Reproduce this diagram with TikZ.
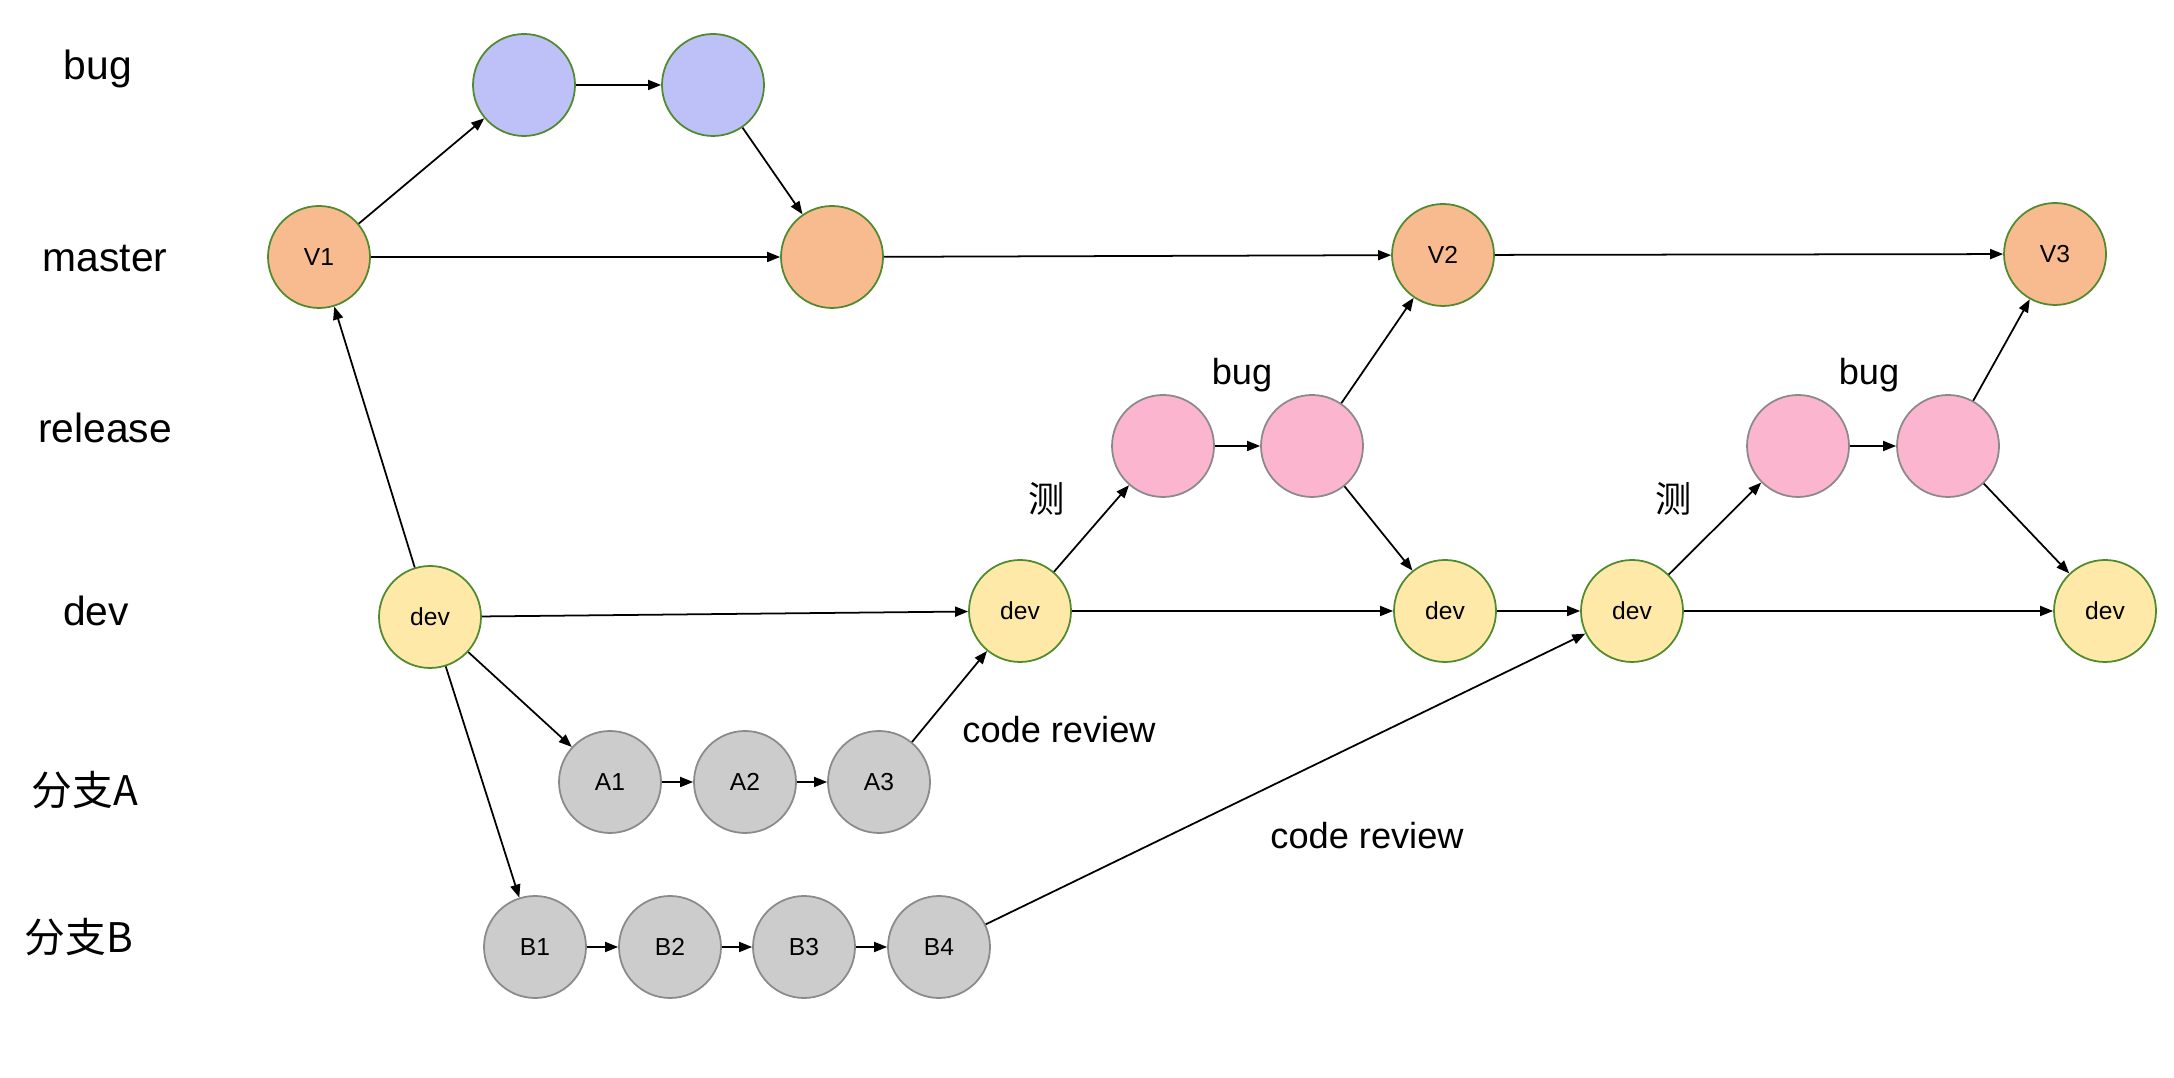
\documentclass[tikz,border=0pt]{standalone}
\usepackage{fontspec}
\setmainfont{Liberation Sans}
\newfontfamily\cjk{Noto Sans CJK SC}
\usepackage{xcolor}
\usetikzlibrary{arrows.meta, positioning}

\definecolor{mastercol}{HTML}{F8BB8F}
\definecolor{bugcol}{HTML}{BDC1F7}
\definecolor{relcol}{HTML}{FBB5CE}
\definecolor{devcol}{HTML}{FFE9A9}
\definecolor{featcol}{HTML}{CCCCCC}
\definecolor{greenline}{HTML}{4F8B2D}
\definecolor{grayline}{HTML}{8A8A8A}

\begin{document}
\begin{tikzpicture}[
	>={Triangle[length=1.3mm, width=1mm]},
	commit/.style={circle, draw, line width=0.5pt, minimum size=1.02cm, inner sep=0pt, font=\fontsize{7}{8}\selectfont},
	mastercommit/.style={commit, fill=mastercol, draw=greenline},
	bugcommit/.style={commit, fill=bugcol, draw=greenline},
	devcommit/.style={commit, fill=devcol, draw=greenline},
	relcommit/.style={commit, fill=relcol, draw=grayline},
	featcommit/.style={commit, fill=featcol, draw=grayline},
	lane/.style={font=\fontsize{11.6}{14}\selectfont, yshift=-0.04cm},
	note/.style={font=\fontsize{10.3}{12}\selectfont, yshift=-0.03cm},
	link/.style={->, line width=0.5pt}
	]
	
	\useasboundingbox (0,0) rectangle (21.74,-10.78);
	
	% Lane names
	\node[lane] (Lbug) at (0.98,-0.65) {bug};
	\node[lane] (Lmaster) at (1.05,-2.55) {master};
	\node[lane] (Lrelease) at (1.05,-4.24) {release};
	\node[lane] (Ldev) at (0.96,-6.07) {dev};
	\node[lane] (La) at (0.85,-7.86) {\cjk 分支A};
	\node[lane] (Lb) at (0.79,-9.33) {\cjk 分支B};
	
	% master
	\node[mastercommit] (V1) at (3.19,-2.57) {V1};
	\node[mastercommit] (M2) at (8.32,-2.57) {};
	\node[mastercommit] (V2) at (14.43,-2.55) {V2};
	\node[mastercommit] (V3) at (20.55,-2.54) {V3};
	
	% bug
	\node[bugcommit] (bug1) at (5.24,-0.85) {};
	\node[bugcommit] (bug2) at (7.13,-0.85) {};
	
	% release
	\node[relcommit] (R1) at (11.63,-4.46) {};
	\node[relcommit] (R2) at (13.12,-4.46) {};
	\node[relcommit] (R3) at (17.98,-4.46) {};
	\node[relcommit] (R4) at (19.48,-4.46) {};
	
	% dev
	\node[devcommit] (D0) at (4.30,-6.17) {dev};
	\node[devcommit] (D1) at (10.20,-6.11) {dev};
	\node[devcommit] (D2) at (14.45,-6.11) {dev};
	\node[devcommit] (D3) at (16.32,-6.11) {dev};
	\node[devcommit] (D4) at (21.05,-6.11) {dev};
	
	% branch A
	\node[featcommit] (A1) at (6.10,-7.82) {A1};
	\node[featcommit] (A2) at (7.45,-7.82) {A2};
	\node[featcommit] (A3) at (8.79,-7.82) {A3};
	
	% branch B
	\node[featcommit] (B1) at (5.35,-9.47) {B1};
	\node[featcommit] (B2) at (6.70,-9.47) {B2};
	\node[featcommit] (B3) at (8.04,-9.47) {B3};
	\node[featcommit] (B4) at (9.39,-9.47) {B4};
	
	% Notes
	\node[note] (bugA) at (12.42,-3.72) {bug};
	\node[note] (bugB) at (18.69,-3.72) {bug};
	\node[note] (testA) at (10.47,-4.96) {\cjk 测};
	\node[note] (testB) at (16.74,-4.96) {\cjk 测};
	\node[note] (crA) at (10.59,-7.27) {code review};
	\node[note] (crB) at (13.67,-8.33) {code review};
	
	% master and bug fix
	\draw[link] (V1) -- (bug1);
	\draw[link] (bug1) -- (bug2);
	\draw[link] (bug2) -- (M2);
	\draw[link] (V1) -- (M2);
	\draw[link] (M2) -- (V2);
	\draw[link] (V2) -- (V3);
	
	% dev
	\draw[link] (D0) -- (V1);
	\draw[link] (D0) -- (D1);
	\draw[link] (D0) -- (A1);
	\draw[link] (D0) -- (B1);
	\draw[link] (D1) -- (D2);
	\draw[link] (D2) -- (D3);
	\draw[link] (D3) -- (D4);
	
	% branches
	\draw[link] (A1) -- (A2);
	\draw[link] (A2) -- (A3);
	\draw[link] (A3) -- (D1);
	\draw[link] (B1) -- (B2);
	\draw[link] (B2) -- (B3);
	\draw[link] (B3) -- (B4);
	\draw[link] (B4) -- (D3);
	
	% release
	\draw[link] (D1) -- (R1);
	\draw[link] (R1) -- (R2);
	\draw[link] (R2) -- (V2);
	\draw[link] (R2) -- (D2);
	\draw[link] (D3) -- (R3);
	\draw[link] (R3) -- (R4);
	\draw[link] (R4) -- (V3);
	\draw[link] (R4) -- (D4);
	
\end{tikzpicture}
\end{document}
